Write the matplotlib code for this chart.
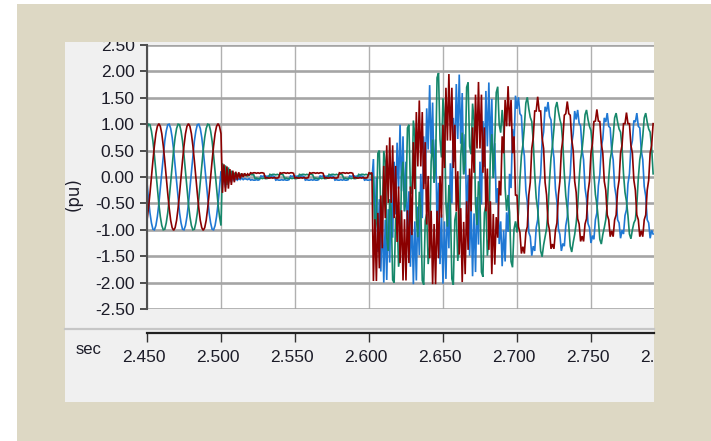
import numpy as np
import matplotlib
matplotlib.use("Agg")
import matplotlib.pyplot as plt
from matplotlib.patches import Rectangle
from matplotlib.lines import Line2D
from matplotlib.transforms import blended_transform_factory

# ---------------- data (per unit, sampled every 1 ms from 2.450 s) ----------------
t_start = 2.450
t_step = 0.001

red_pre = [-0.82, -0.59, -0.31, 0.00, 0.31, 0.59, 0.82, 0.96, 1.01, 0.96,
           0.82, 0.59, 0.31, 0.00, -0.31, -0.59, -0.82, -0.96, -1.01, -0.96,
           -0.82, -0.59, -0.31, 0.00, 0.31, 0.59, 0.82, 0.96, 1.01, 0.96,
           0.82, 0.59, 0.31, 0.00, -0.31, -0.59, -0.82, -0.96, -1.01, -0.96,
           -0.82, -0.59, -0.31, 0.00, 0.31, 0.59, 0.82, 0.96, 1.01, 0.96, 0.82]
green_pre = [0.92, 1.00, 0.99, 0.87, 0.68, 0.41, 0.11, -0.21, -0.51, -0.75,
             -0.92, -1.00, -0.99, -0.87, -0.68, -0.41, -0.11, 0.21, 0.51, 0.75,
             0.92, 1.00, 0.99, 0.87, 0.68, 0.41, 0.11, -0.21, -0.51, -0.75,
             -0.92, -1.00, -0.99, -0.87, -0.68, -0.41, -0.11, 0.21, 0.51, 0.75,
             0.92, 1.00, 0.99, 0.87, 0.68, 0.41, 0.11, -0.21, -0.51, -0.75, -0.92]
blue_pre = [-0.11, -0.41, -0.68, -0.87, -0.99, -1.00, -0.92, -0.75, -0.51, -0.21,
            0.11, 0.41, 0.68, 0.87, 0.99, 1.00, 0.92, 0.75, 0.51, 0.21,
            -0.11, -0.41, -0.68, -0.87, -0.99, -1.00, -0.92, -0.75, -0.51, -0.21,
            0.11, 0.41, 0.68, 0.87, 0.99, 1.00, 0.92, 0.75, 0.51, 0.21,
            -0.11, -0.41, -0.68, -0.87, -0.99, -1.00, -0.92, -0.75, -0.51, -0.21, 0.11]

red_fault = [-0.30, 0.24, -0.28, 0.20, -0.22, 0.15, -0.15, 0.12, -0.10, 0.10,
             -0.05, 0.09, -0.03, 0.07, 0.00, 0.07, 0.02, 0.06, 0.03]
green_fault = [0.26, -0.10, 0.22, -0.15, 0.18, -0.08, 0.12, -0.03, 0.08, 0.00,
               0.06, 0.01, 0.05, 0.02, 0.05, 0.03, 0.04, 0.02, 0.04]
blue_fault = [-0.15, 0.08, -0.20, 0.05, -0.12, 0.02, -0.10, 0.00, -0.07, -0.02,
              -0.06, -0.03, -0.05, -0.02, -0.05, -0.03, -0.04, -0.05, -0.03]

red_dead = [0.08, 0.07, 0.08, 0.08, 0.07, 0.08, 0.07, 0.08, 0.08, 0.07,
            -0.02, -0.01, -0.02, -0.02, -0.01, -0.02, -0.01, -0.02, -0.02, -0.01,
            0.08, 0.07, 0.08, 0.08, 0.07, 0.08, 0.07, 0.08, 0.08, 0.07,
            -0.02, -0.01, -0.02, -0.02, -0.01, -0.02, -0.01, -0.02, -0.02, -0.01,
            0.08, 0.07, 0.08, 0.08, 0.07, 0.08, 0.07, 0.08, 0.08, 0.07,
            -0.02, -0.01, -0.02, -0.02, -0.01, -0.02, -0.01, -0.02, -0.02, -0.01,
            0.08, 0.07, 0.08, 0.08, 0.07, 0.08, 0.07, 0.08, 0.08, 0.07,
            -0.02, -0.01, -0.02, -0.02, -0.01, -0.02, -0.01, -0.02, -0.02, -0.01,
            0.08, 0.07, 0.08]
green_dead = [0.05, 0.04, 0.05,
              -0.03, -0.02, -0.03, -0.03, -0.02, -0.03, -0.02, -0.03, -0.03, -0.02,
              0.05, 0.04, 0.05, 0.05, 0.04, 0.05, 0.04, 0.05, 0.05, 0.04,
              -0.03, -0.02, -0.03, -0.03, -0.02, -0.03, -0.02, -0.03, -0.03, -0.02,
              0.05, 0.04, 0.05, 0.05, 0.04, 0.05, 0.04, 0.05, 0.05, 0.04,
              -0.03, -0.02, -0.03, -0.03, -0.02, -0.03, -0.02, -0.03, -0.03, -0.02,
              0.05, 0.04, 0.05, 0.05, 0.04, 0.05, 0.04, 0.05, 0.05, 0.04,
              -0.03, -0.02, -0.03, -0.03, -0.02, -0.03, -0.02, -0.03, -0.03, -0.02,
              0.05, 0.04, 0.05, 0.05, 0.04, 0.05, 0.04, 0.05, 0.05, 0.04]
blue_dead = [-0.06, -0.05, -0.06, -0.06, -0.05, -0.06, -0.05,
             0.02, 0.01, 0.02, 0.02, 0.01, 0.02, 0.01, 0.02, 0.02, 0.01,
             -0.06, -0.05, -0.06, -0.06, -0.05, -0.06, -0.05, -0.06, -0.06, -0.05,
             0.02, 0.01, 0.02, 0.02, 0.01, 0.02, 0.01, 0.02, 0.02, 0.01,
             -0.06, -0.05, -0.06, -0.06, -0.05, -0.06, -0.05, -0.06, -0.06, -0.05,
             0.02, 0.01, 0.02, 0.02, 0.01, 0.02, 0.01, 0.02, 0.02, 0.01,
             -0.06, -0.05, -0.06, -0.06, -0.05, -0.06, -0.05, -0.06, -0.06, -0.05,
             0.02, 0.01, 0.02, 0.02, 0.01, 0.02, 0.01, 0.02, 0.02, 0.01,
             -0.06, -0.05, -0.06, -0.06, -0.05, -0.06]

red_post = [-1.97, -0.80, -1.97, -0.68, -1.73, -0.35, -1.35, 0.21, -0.78, 0.60,
            -0.49, 0.75, -0.49, 0.60, -0.78, 0.21, -1.23, -0.18, -1.63, -0.63,
            -1.96, -0.80, -1.96, -0.63, -1.63, -0.18, -1.10, 0.66, -0.23, 1.23,
            0.20, 1.45, 0.20, 1.23, -0.23, 0.66, -0.90, 0.02, -1.54, -0.64,
            -2.03, -0.89, -2.03, -0.64, -1.54, 0.02, -0.77, 0.99, 0.17, 1.69,
            0.69, 1.95, 0.69, 1.69, 0.17, 0.99, -0.65, 0.11, -1.47, -0.59,
            -1.99, -0.85, -1.84, -0.46, -1.38, 0.16, -0.65, 0.94, 0.08, 1.56,
            0.54, 1.80, 0.54, 1.56, 0.08, 0.94, -0.65, 0.16, -1.38, -0.46,
            -1.84, -0.70, -1.66, -0.76, -1.15, -0.07, -0.35, 0.77, 0.45, 1.46,
            0.96, 1.72, 0.96, 1.46, 0.45, 0.77, -0.35, -0.34, -0.94, -1.05,
            -1.45, -1.32, -1.45, -1.05, -0.94, -0.34, -0.10, 0.54, 0.74, 1.25,
            1.25, 1.52, 1.25, 1.25, 0.74, 0.54, -0.10, -0.34, -0.87, -1.01,
            -1.36, -1.27, -1.36, -1.01, -0.87, -0.34, -0.08, 0.50, 0.71, 1.17,
            1.20, 1.43, 1.20, 1.17, 0.71, 0.50, -0.08, -0.29, -0.79, -0.89,
            -1.22, -1.12, -1.22, -0.89, -0.79, -0.29, -0.08, 0.45, 0.63, 1.05,
            1.06, 1.28, 1.06, 1.05, 0.63, 0.45, -0.08, -0.25, -0.72, -0.81,
            -1.13, -1.02, -1.13, -0.81, -0.72, -0.25, -0.06, 0.45, 0.60, 1.01,
            1.01, 1.22, 1.01, 1.01, 0.60, 0.45, -0.06, -0.25, -0.72, -0.81,
            -1.13, -1.02, -1.13, -0.81, -0.72, -0.25, -0.06, 0.45, 0.60, 1.01]
green_post = [-0.01, -1.03, -0.86, 0.45, 0.50, -0.71, -0.79, 0.49, 0.29, -1.15,
              -1.40, -0.42, -0.61, -1.95, -2.00, -0.80, -0.71, -1.70, -1.47, 0.00,
              0.29, -0.65, -0.43, 0.93, 0.99, -0.22, -0.32, 1.07, 0.77, -0.78,
              -1.14, -0.28, -0.56, -1.96, -2.04, -0.83, -0.70, -1.65, -1.31, 0.29,
              0.71, -0.11, 0.21, 1.88, 1.97, 0.71, 0.37, 1.49, 1.12, -0.50,
              -0.94, -0.15, -0.49, -1.93, -2.04, -0.82, -0.66, -1.59, -1.22, 0.40,
              0.84, 0.05, 0.28, 1.70, 1.79, 0.58, 0.43, 1.39, 1.06, -0.52,
              -0.91, -0.08, -0.38, -1.80, -1.89, -0.68, -0.53, -1.49, -1.16, 0.42,
              0.81, -0.02, 0.67, 1.60, 1.71, 0.99, 0.84, 1.27, 0.91, -0.21,
              -0.64, -0.34, -0.67, -1.60, -1.71, -0.99, -0.84, -1.05, -0.68, -0.05,
              0.40, 0.61, 0.96, 1.40, 1.51, 1.29, 1.13, 1.05, 0.68, 0.05,
              -0.40, -0.61, -0.96, -1.40, -1.51, -1.29, -1.13, -0.98, -0.63, -0.06,
              0.36, 0.60, 0.92, 1.31, 1.42, 1.24, 1.09, 0.98, 0.63, 0.06,
              -0.36, -0.60, -0.92, -1.31, -1.42, -1.24, -1.09, -0.88, -0.57, -0.05,
              0.33, 0.52, 0.81, 1.18, 1.27, 1.09, 0.96, 0.88, 0.57, 0.05,
              -0.33, -0.52, -0.81, -1.18, -1.27, -1.09, -0.96, -0.81, -0.52, -0.02,
              0.33, 0.50, 0.77, 1.12, 1.21, 1.04, 0.91, 0.85, 0.56, 0.06,
              -0.29, -0.46, -0.73, -1.08, -1.17, -1.00, -0.87, -0.81, -0.52, -0.02,
              0.33, 0.50, 0.77, 1.12, 1.21, 1.04, 0.91, 0.85, 0.56, 0.06]
blue_post = [0.34, -1.03, -0.01, -1.42, -0.42, -1.79, -0.71, -2.00, -0.81, -1.95,
             -0.61, -1.62, -0.20, -1.15, 0.29, -0.71, 0.65, -0.22, 0.99, -0.27,
             0.77, -0.65, 0.29, -1.20, -0.27, -1.70, -0.68, -2.03, -0.84, -1.96,
             -0.56, -1.48, 0.06, -0.78, 0.77, -0.13, 1.30, 0.52, 1.74, 0.44,
             1.41, -0.11, 0.71, -0.91, -0.11, -1.65, -0.71, -2.02, -0.84, -1.93,
             -0.49, -1.35, 0.26, -0.50, 1.12, 0.29, 1.76, 0.72, 1.94, 0.63,
             1.59, 0.05, 0.81, -0.78, 0.04, -1.49, -0.53, -1.88, -0.69, -1.80,
             -0.38, -1.28, 0.29, -0.52, 1.06, 0.19, 1.63, 0.58, 1.79, 0.50,
             1.48, -0.02, 0.64, -0.49, -0.21, -1.27, -0.84, -1.69, -1.01, -1.60,
             -0.67, -1.04, 0.06, -0.21, 0.91, 0.57, 1.54, 1.29, 1.51, 1.20,
             1.16, 0.61, 0.40, -0.25, -0.48, -1.05, -1.13, -1.49, -1.31, -1.40,
             -0.96, -0.81, -0.20, 0.05, 0.68, 0.85, 1.33, 1.24, 1.42, 1.15,
             1.08, 0.60, 0.36, -0.22, -0.47, -0.98, -1.09, -1.40, -1.26, -1.31,
             -0.92, -0.76, -0.20, 0.06, 0.63, 0.82, 1.25, 1.09, 1.27, 1.02,
             0.97, 0.52, 0.33, -0.21, -0.41, -0.88, -0.96, -1.25, -1.11, -1.18,
             -0.81, -0.68, -0.17, 0.05, 0.57, 0.72, 1.12, 1.04, 1.21, 0.96,
             0.93, 0.50, 0.33, -0.18, -0.36, -0.81, -0.87, -1.16, -1.01, -1.08,
             -0.73, -0.62, -0.13, 0.06, 0.56, 0.69, 1.07, 1.04, 1.21, 0.96,
             0.93, 0.50, 0.33, -0.18, -0.36, -0.81, -0.87, -1.16, -1.01, -1.08]

y_ticks = [2.5, 2.0, 1.5, 1.0, 0.5, 0.0, -0.5, -1.0, -1.5, -2.0, -2.5]
y_labels = ["2.50", "2.00", "1.50", "1.00", "0.50", "0.00", "-0.50", "-1.00", "-1.50", "-2.00", "-2.50"]
x_ticks = [2.45, 2.50, 2.55, 2.60, 2.65, 2.70, 2.75, 2.80]
x_labels = ["2.450", "2.500", "2.550", "2.600", "2.650", "2.700", "2.750", "2.800"]
x_range = (2.450, 2.7926)
y_range = (-2.5, 2.5)

series = [("blue", blue_pre + blue_fault + blue_dead + blue_post, "#1f78d4"),
          ("green", green_pre + green_fault + green_dead + green_post, "#16876a"),
          ("red", red_pre + red_fault + red_dead + red_post, "#8a0000")]

# ---------------- layout ----------------
W, H = 711, 441
FONT = ["Liberation Sans Narrow", "Liberation Sans", "DejaVu Sans"]


def fx(px):
    return px / W


def fy(py):
    return 1 - py / H


fig = plt.figure(figsize=(W / 100, H / 100), dpi=100)
fig.patch.set_facecolor("white")

fig.add_artist(Rectangle((fx(17), 0), 1 - fx(17), fy(4), transform=fig.transFigure,
                         facecolor="#ddd8c4", edgecolor="none", zorder=-3))
panel = Rectangle((fx(65), fy(402)), fx(654) - fx(65), fy(42) - fy(402),
                  transform=fig.transFigure, facecolor="#f0f0f0", edgecolor="none", zorder=-2)
fig.add_artist(panel)
fig.add_artist(Line2D([fx(65), fx(654)], [fy(329), fy(329)], transform=fig.transFigure,
                      color="#c6c6c6", linewidth=1.6, zorder=-1))

ax = fig.add_axes([fx(147), fy(309), fx(654) - fx(147), fy(45) - fy(309)])
ax.set_facecolor("white")
ax.set_xlim(*x_range)
ax.set_ylim(*y_range)
ax.set_yticks(y_ticks)
ax.set_yticklabels(y_labels, family=FONT, fontsize=12.5, color="#1c1c28")
for lbl in ax.get_yticklabels():
    lbl.set_clip_path(panel)
ax.set_xticks(x_ticks[:-1])
ax.tick_params(axis="x", length=0, labelbottom=False)
ax.tick_params(axis="y", direction="out", length=5, width=1.2, color="#303030", pad=4)
ax.yaxis.grid(True, color="#a5a5a5", linewidth=1.9)
ax.xaxis.grid(True, color="#b0b0b0", linewidth=1.0)
ax.set_axisbelow(True)
for side in ["top", "right", "bottom"]:
    ax.spines[side].set_visible(False)
ax.spines["left"].set_color("#505050")
ax.spines["left"].set_linewidth(1.5)

for name, vals, col in series:
    v = np.array(vals)
    t = t_start + t_step * np.arange(len(v))
    ax.plot(t, v, color=col, linewidth=1.2, solid_joinstyle="miter")

# separate x axis strip
ax2 = fig.add_axes([fx(147), fy(333), fx(654) - fx(147), 0.0005])
ax2.set_facecolor("none")
ax2.set_xlim(*x_range)
ax2.set_xticks(x_ticks[:-1])
ax2.set_xticklabels([])
ax2.set_yticks([])
for side in ["top", "right", "left"]:
    ax2.spines[side].set_visible(False)
ax2.spines["bottom"].set_color("#202020")
ax2.spines["bottom"].set_linewidth(1.6)
ax2.tick_params(axis="x", direction="out", length=6.5, width=1.0, color="#303030")
tr = blended_transform_factory(ax2.transData, fig.transFigure)
for xv, lab in zip(x_ticks, x_labels):
    txt = ax2.text(xv - 0.002, fy(357), lab, transform=tr, ha="center", va="center",
                   family=FONT, fontsize=12.5, color="#1c1c28", clip_on=True)
    txt.set_clip_path(panel)

fig.text(fx(89), fy(350), "sec", ha="center", va="center", family=FONT, fontsize=12,
         color="#1c1c28")
fig.text(fx(74), fy(194), "(pu)", ha="center", va="center", rotation=90,
         family=["DejaVu Sans"], fontsize=12, color="#1c1c28")

fig.savefig("out.png", dpi=100, facecolor=fig.get_facecolor())
